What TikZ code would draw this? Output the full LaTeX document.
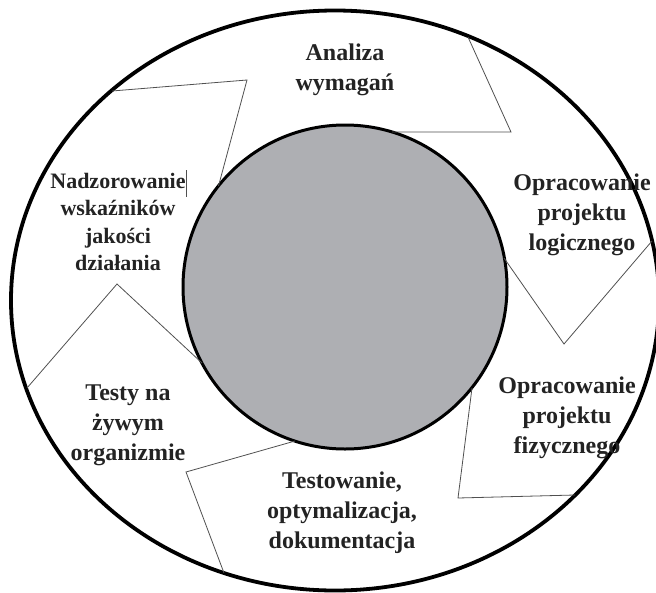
\documentclass[tikz,border=0pt]{standalone}
\usepackage{fontspec}
\setmainfont{Liberation Serif}
\definecolor{circgray}{RGB}{174,175,179}
\definecolor{linegray}{RGB}{80,80,80}
\definecolor{txt}{RGB}{35,35,35}
\begin{document}
\begin{tikzpicture}[x=1pt,y=-1pt,
  lbl/.style={font=\fontsize{24}{30}\selectfont\bfseries, text=txt, align=center, inner sep=0pt},
  lblsmall/.style={font=\fontsize{22}{27.5}\selectfont\bfseries, text=txt, align=center, inner sep=0pt},
  flowline/.style={draw=linegray, line width=0.8pt, line join=miter},
  outerring/.style={draw=black, line width=3.8pt},
  hub/.style={draw=black, fill=circgray, line width=3pt}]
\useasboundingbox (0,0) rectangle (656,592);
% outer ellipse and inner circle
\draw[outerring] (335,300.5) ellipse [x radius=324pt, y radius=290pt];
\draw[hub] (345,287) circle [radius=162pt];
% points of the chevron boundaries
\coordinate (a1) at (112,91);   \coordinate (a2) at (247,80);   \coordinate (a3) at (218.5,186);
\coordinate (b1) at (468,37);   \coordinate (b2) at (511,132);  \coordinate (b3) at (392,132);
\coordinate (c1) at (504,258);  \coordinate (c2) at (564,344);  \coordinate (c3) at (652,241);
\coordinate (d1) at (472,388);  \coordinate (d2) at (458,498);  \coordinate (d3) at (575,495);
\coordinate (e1) at (295,441);  \coordinate (e2) at (186,472);  \coordinate (e3) at (224,573);
\coordinate (f1) at (202,363);  \coordinate (f2) at (117,284);  \coordinate (f3) at (27,388);
\coordinate (bar1) at (186,170); \coordinate (bar2) at (186,197);
\draw[flowline] (a1) -- (a2) -- (a3);
\draw[flowline] (b1) -- (b2) -- (b3);
\draw[flowline] (c1) -- (c2) -- (c3);
\draw[flowline] (d1) -- (d2) -- (d3);
\draw[flowline] (e1) -- (e2) -- (e3);
\draw[flowline] (f1) -- (f2) -- (f3);
\draw[flowline] (bar1) -- (bar2);
% labels
\node[lbl] (analiza) at (345,70) {Analiza\\wymagań};
\node[lbl] (logiczny) at (582,215) {Opracowanie\\projektu\\logicznego};
\node[lbl] (fizyczny) at (567,418) {Opracowanie\\projektu\\fizycznego};
\node[lbl] (testowanie) at (342,513) {Testowanie,\\optymalizacja,\\dokumentacja};
\node[lbl] (testy) at (128,425) {Testy na\\żywym\\organizmie};
\node[lblsmall] (nadzor) at (118,222) {Nadzorowanie\\wskaźników\\jakości\\działania};
\end{tikzpicture}
\end{document}
